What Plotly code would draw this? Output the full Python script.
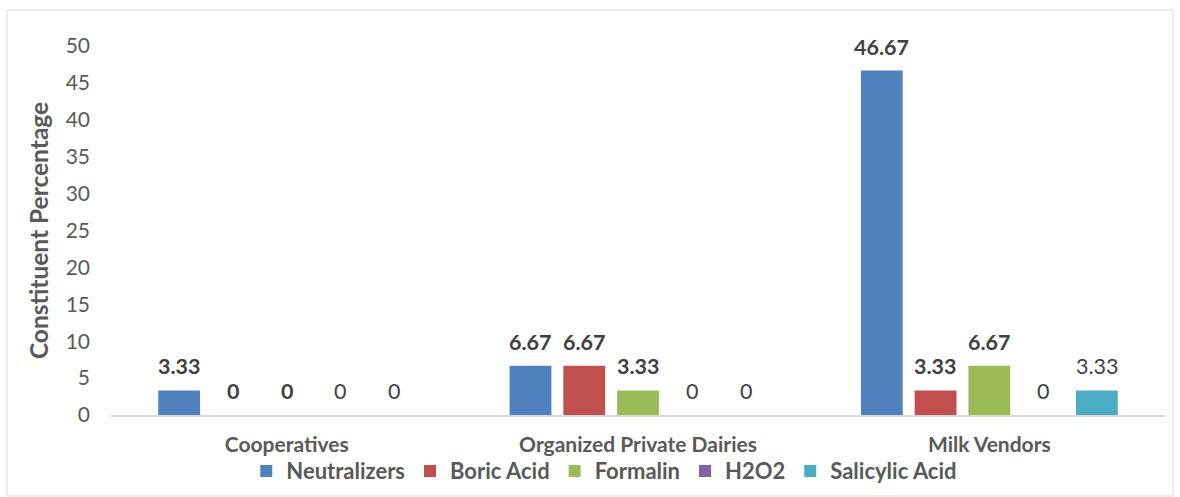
import plotly.graph_objects as go

categories = ["Cooperatives", "Organized Private Dairies", "Milk Vendors"]
series_names = ["Neutralizers", "Boric Acid", "Formalin", "H2O2", "Salicylic Acid"]
neutralizers = [3.33, 6.67, 46.67]
boric_acid = [0, 6.67, 3.33]
formalin = [0, 3.33, 6.67]
h2o2 = [0, 0, 0]
salicylic_acid = [0, 0, 3.33]
label_bold = [True, True, True, False, False]
y_ticks = [0, 5, 10, 15, 20, 25, 30, 35, 40, 45, 50]

series_values = [neutralizers, boric_acid, formalin, h2o2, salicylic_acid]
colors = ["#4F81BD", "#C0504D", "#9BBB59", "#8064A2", "#4BACC6"]

FONT = "Lato, Carlito, Calibri, sans-serif"
TXT = "#595959"
LBL = "#404040"
BARGAP = 0.235
BARGROUPGAP = 0.222

fig = go.Figure()
for name, vals, col in zip(series_names, series_values, colors):
    fig.add_trace(go.Bar(
        name=name, x=categories, y=vals,
        marker=dict(color=col, line=dict(width=0)),
        hoverinfo="x+y+name",
    ))

n = len(series_names)
slot = (1 - BARGAP) / n
for i, (vals, bold) in enumerate(zip(series_values, label_bold)):
    for j, v in enumerate(vals):
        txt = f"{v:g}"
        if bold:
            txt = f"<b>{txt}</b>"
        fig.add_annotation(
            x=j + (i - (n - 1) / 2) * slot, y=v, xref="x", yref="y",
            text=txt, showarrow=False, yanchor="bottom", yshift=9,
            font=dict(family=FONT, size=21.5, color=LBL),
        )

fig.add_shape(type="rect", xref="paper", yref="paper",
              x0=-0.0987, x1=1.0076, y0=-0.2195, y1=1.0976,
              line=dict(color="#D9D9D9", width=1), fillcolor="rgba(0,0,0,0)",
              layer="below")

fig.update_layout(
    width=1180, height=497,
    margin=dict(l=111, r=15, t=46, b=82, autoexpand=False),
    paper_bgcolor="white", plot_bgcolor="white",
    barmode="group", bargap=BARGAP, bargroupgap=BARGROUPGAP,
    font=dict(family=FONT, color=TXT),
    showlegend=True,
    legend=dict(orientation="h", x=0.468, xanchor="center", y=-0.152, yanchor="middle",
                font=dict(family=FONT, size=22, color=TXT, weight="bold"),
                itemwidth=30, traceorder="normal", bgcolor="rgba(0,0,0,0)"),
)
fig.update_xaxes(
    type="category", showgrid=False, showline=True, linecolor="#D9D9D9", linewidth=2,
    ticks="", tickfont=dict(family=FONT, size=21, color=TXT, weight="bold"),
    ticklabelstandoff=10, zeroline=False, automargin=False,
)
fig.update_yaxes(
    range=[0, 50], tickvals=y_ticks, showgrid=False, showline=False, zeroline=False,
    ticks="", tickfont=dict(family=FONT, size=21, color=TXT),
    ticklabelstandoff=20, automargin=False,
    title=dict(text="<b>Constituent Percentage</b>", font=dict(family=FONT, size=24.5, color=TXT), standoff=10),
)

fig.write_html("out.html")
